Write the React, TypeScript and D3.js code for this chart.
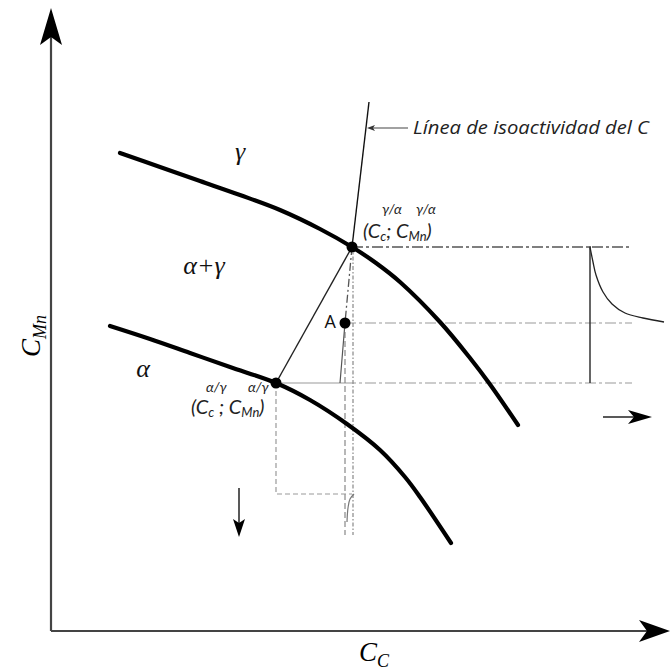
import React from 'react';
import * as d3 from 'd3';

type P = [number, number];

const W = 670;
const H = 671;

// Schematic composition units (C_C horizontal, C_Mn vertical)
const gammaBoundary: P[] = [[69,478],[109,464],[149,450],[189,436],[229,421],[269,402],[301,384],[325,368],[349,349],[389,309],[419,273],[438,248],[467,206]];
const alphaBoundary: P[] = [[59,305],[99,292],[139,278],[179,264],[225,248],[259,231],[296,207],[329,181],[354,154],[369,134],[400,88]];
const gammaAlphaPoint: P = [301, 384];
const alphaGammaPoint: P = [225, 248];
const pointA: P = [294, 308];
const isoactivityTop: P = [318, 529];
const isoactivityLower: P[] = [[294,308],[291.5,278],[289,248]];
const guideBottom = 96;
const guideRight = 581;
const profileX = 539;
const profileCurve: P[] = [[539,384],[542,369],[545,356],[552,339],[561,327],[574,318],[592,313],[613,309]];
const lShape: P[] = [[225,248],[225,137],[301,137]];
const hook: P[] = [[303,137],[299,132],[297,123],[296,109]];
const rightArrow: P[] = [[552,214],[601,214]];
const downArrow: P[] = [[188,143],[188,94]];
const labelArrow: P[] = [[357,503],[316,503]];
const axisEnd = { x: 619, y: 623 };

const regionLabels: { text: string; at: P }[] = [
  { text: 'γ', at: [189, 471] },
  { text: 'α+γ', at: [153, 357] },
  { text: 'α', at: [92, 254] },
];
const isoLabel = 'Línea de isoactividad del C';

const xs = d3.scaleLinear().domain([0, 600]).range([51, 651]);
const ys = d3.scaleLinear().domain([0, 600]).range([631, 31]);

const smooth = d3.line<P>().x(d => xs(d[0])).y(d => ys(d[1])).curve(d3.curveCatmullRom.alpha(0.5));
const straight = d3.line<P>().x(d => xs(d[0])).y(d => ys(d[1]));

function arrowHead(tip: P, dir: P, len: number, half: number, notch: number): string {
  const [tx, ty] = tip;
  const [dx, dy] = dir;
  const px = -dy, py = dx;
  const bx = tx - dx * len, by = ty - dy * len;
  const nx = tx - dx * (len - notch), ny = ty - dy * (len - notch);
  return `M${tx},${ty}L${bx + px * half},${by + py * half}L${nx},${ny}L${bx - px * half},${by - py * half}Z`;
}

const SANS = '"Open Sans", Lato, sans-serif';
const LABEL = 'Lato, "Open Sans", sans-serif';
const SERIF = '"Liberation Serif", "DejaVu Serif", serif';

export default function App() {
  const ox = xs(0), oy = ys(0);
  const ga = gammaAlphaPoint, ag = alphaGammaPoint;
  const dashDot = '11,3,3,3';
  return (
    <svg width={W} height={H} style={{ position: 'absolute', left: 0, top: 0, background: '#fff' }}>
      {/* axes */}
      <line x1={ox} y1={oy} x2={ox} y2={ys(axisEnd.y) + 20} stroke="#444" strokeWidth={2.2} />
      <line x1={ox} y1={oy} x2={xs(axisEnd.x) - 20} y2={oy} stroke="#444" strokeWidth={2.2} />
      <path d={arrowHead([ox, ys(axisEnd.y)], [0, -1], 37, 11, 8)} fill="#000" />
      <path d={arrowHead([xs(axisEnd.x), oy], [1, 0], 31, 11, 8)} fill="#000" />

      {/* axis labels */}
      <text x={359} y={661} fontFamily={SERIF} fontStyle="italic" fontSize={27}>
        C<tspan fontSize={18} dy={6}>C</tspan>
      </text>
      <text transform="translate(40,357) rotate(-90)" fontFamily={SERIF} fontStyle="italic" fontSize={27}>
        C<tspan fontSize={18} dy={6}>Mn</tspan>
      </text>

      {/* guide lines */}
      <line x1={xs(ga[0])} y1={ys(ga[1])} x2={xs(guideRight)} y2={ys(ga[1])} stroke="#555" strokeWidth={1.4} strokeDasharray={dashDot} />
      <line x1={xs(pointA[0])} y1={ys(pointA[1])} x2={xs(guideRight)} y2={ys(pointA[1])} stroke="#999" strokeWidth={1.2} strokeDasharray={dashDot} />
      <line x1={xs(ag[0])} y1={ys(ag[1])} x2={xs(pointA[0])} y2={ys(ag[1])} stroke="#999" strokeWidth={1.2} />
      <line x1={xs(pointA[0])} y1={ys(ag[1])} x2={xs(guideRight)} y2={ys(ag[1])} stroke="#999" strokeWidth={1.2} strokeDasharray={dashDot} />
      <line x1={xs(ga[0]) + 1} y1={ys(ga[1])} x2={xs(ga[0]) + 1} y2={ys(guideBottom)} stroke="#888" strokeWidth={1.2} strokeDasharray="4,2,1.5,2" />
      <line x1={xs(pointA[0])} y1={ys(pointA[1])} x2={xs(pointA[0])} y2={ys(guideBottom)} stroke="#888" strokeWidth={1.2} strokeDasharray="6,3" />
      <path d={straight(lShape) ?? ''} fill="none" stroke="#999" strokeWidth={1.2} strokeDasharray="5,3" />
      <path d={smooth(hook) ?? ''} fill="none" stroke="#777" strokeWidth={1.2} />

      {/* isoactivity line */}
      <line x1={xs(isoactivityTop[0])} y1={ys(isoactivityTop[1])} x2={xs(ga[0])} y2={ys(ga[1])} stroke="#111" strokeWidth={1.4} />
      <line x1={xs(ga[0])} y1={ys(ga[1])} x2={xs(pointA[0])} y2={ys(pointA[1])} stroke="#555" strokeWidth={1.3} strokeDasharray="8,3,2,3" />
      <path d={smooth(isoactivityLower) ?? ''} fill="none" stroke="#555" strokeWidth={1.2} />

      {/* tie line */}
      <line x1={xs(ag[0])} y1={ys(ag[1])} x2={xs(ga[0])} y2={ys(ga[1])} stroke="#222" strokeWidth={1.4} />

      {/* phase boundaries */}
      <path d={smooth(gammaBoundary) ?? ''} fill="none" stroke="#000" strokeWidth={4.2} strokeLinecap="round" />
      <path d={smooth(alphaBoundary) ?? ''} fill="none" stroke="#000" strokeWidth={4.2} strokeLinecap="round" />

      {/* concentration profile */}
      <line x1={xs(profileX)} y1={ys(ga[1]) - 1} x2={xs(profileX)} y2={ys(ag[1])} stroke="#333" strokeWidth={1.5} />
      <path d={smooth(profileCurve) ?? ''} fill="none" stroke="#222" strokeWidth={1.3} />

      {/* direction arrows */}
      <line x1={xs(rightArrow[0][0])} y1={ys(rightArrow[0][1])} x2={xs(rightArrow[1][0]) - 15} y2={ys(rightArrow[1][1])} stroke="#222" strokeWidth={1.5} />
      <path d={arrowHead([xs(rightArrow[1][0]), ys(rightArrow[1][1])], [1, 0], 24, 7, 6)} fill="#000" />
      <line x1={xs(downArrow[0][0])} y1={ys(downArrow[0][1])} x2={xs(downArrow[1][0])} y2={ys(downArrow[1][1]) - 10} stroke="#222" strokeWidth={1.5} />
      <path d={arrowHead([xs(downArrow[1][0]), ys(downArrow[1][1])], [0, 1], 18, 6, 4)} fill="#000" />

      {/* isoactivity label */}
      <line x1={xs(labelArrow[0][0])} y1={ys(labelArrow[0][1])} x2={xs(labelArrow[1][0]) + 6} y2={ys(labelArrow[1][1])} stroke="#444" strokeWidth={1.1} />
      <path d={arrowHead([xs(labelArrow[1][0]), ys(labelArrow[1][1])], [-1, 0], 8, 3, 2)} fill="#333" />
      <text x={xs(labelArrow[0][0]) + 5} y={ys(labelArrow[0][1]) + 6} fontFamily={SANS} fontStyle="italic" fontSize={19} fill="#222" textLength={236} lengthAdjust="spacingAndGlyphs">
        {isoLabel}
      </text>

      {/* points */}
      <circle cx={xs(ga[0])} cy={ys(ga[1])} r={5.5} fill="#000" />
      <circle cx={xs(ag[0])} cy={ys(ag[1])} r={5.5} fill="#000" />
      <circle cx={xs(pointA[0])} cy={ys(pointA[1])} r={5.5} fill="#000" />
      <text x={xs(pointA[0]) - 9} y={ys(pointA[1]) + 5} textAnchor="end" fontFamily={SANS} fontSize={18} fill="#111">A</text>

      {/* point labels */}
      <g fontFamily={LABEL} fontStyle="italic" fill="#222">
        <text x={xs(ga[0]) + 11} y={ys(ga[1]) - 9} fontSize={20}>
          (C<tspan fontSize={13} dy={3}>c</tspan><tspan dy={-3}>; C</tspan><tspan fontSize={13} dy={3}>Mn</tspan><tspan dy={-3}>)</tspan>
        </text>
        <text x={xs(ga[0]) + 30} y={ys(ga[1]) - 33} fontSize={14}>γ/α</text>
        <text x={xs(ga[0]) + 64} y={ys(ga[1]) - 33} fontSize={14}>γ/α</text>

        <text x={xs(ag[0]) - 85} y={ys(ag[1]) + 31} fontSize={20}>
          (C<tspan fontSize={13} dy={3}>c</tspan><tspan dy={-3}> ; C</tspan><tspan fontSize={13} dy={3}>Mn</tspan><tspan dy={-3}>)</tspan>
        </text>
        <text x={xs(ag[0]) - 70} y={ys(ag[1]) + 9} fontSize={14}>α/γ</text>
        <text x={xs(ag[0]) - 28} y={ys(ag[1]) + 9} fontSize={14}>α/γ</text>
      </g>

      {/* region labels */}
      {regionLabels.map(l => (
        <text key={l.text} x={xs(l.at[0])} y={ys(l.at[1])} textAnchor="middle" fontFamily={SERIF} fontStyle="italic" fontSize={26} fill="#111">
          {l.text}
        </text>
      ))}
    </svg>
  );
}
